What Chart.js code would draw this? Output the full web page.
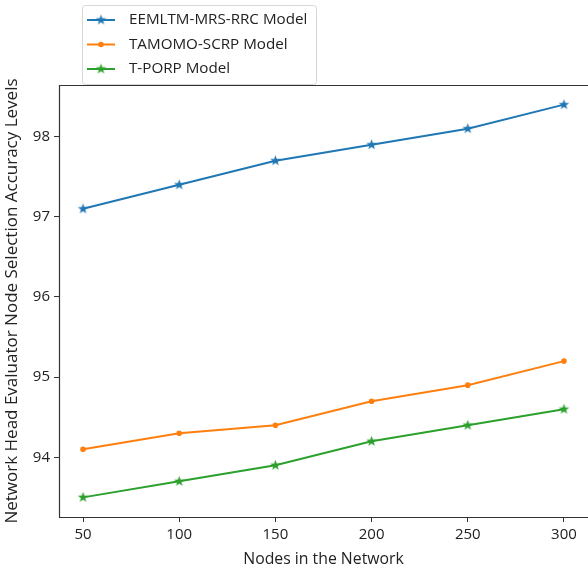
<!DOCTYPE html>
<html>
<head>
<meta charset="utf-8">
<script src="https://cdn.jsdelivr.net/npm/chart.js@4"></script>
<style>
  html, body { margin: 0; padding: 0; background: #fff; }
</style>
</head>
<body>
<canvas id="chart" width="588" height="571"></canvas>
<script>
// Chart data
const nodes = [50, 100, 150, 200, 250, 300];
const eemltm = [97.1, 97.4, 97.7, 97.9, 98.1, 98.4];
const tamomo = [94.1, 94.3, 94.4, 94.7, 94.9, 95.2];
const tporp = [93.5, 93.7, 93.9, 94.2, 94.4, 94.6];
const seriesNames = ['EEMLTM-MRS-RRC Model', 'TAMOMO-SCRP Model', 'T-PORP Model'];
const seriesColors = ['#1f77b4', '#ff7f0e', '#2ca02c'];
const xTicks = [50, 100, 150, 200, 250, 300];
const yTicks = [94, 95, 96, 97, 98];

const FONT = 'Open Sans';
const AXIS_COLOR = '#333';

// Filled five point star, like matplotlib's '*' marker
function makeStar(color, r) {
  const size = Math.ceil(r * 2 + 2);
  const c = document.createElement('canvas');
  c.width = size;
  c.height = size;
  const g = c.getContext('2d');
  const cx = size / 2, cy = size / 2;
  g.beginPath();
  for (let i = 0; i < 10; i++) {
    const rad = i % 2 === 0 ? r : r * 0.42;
    const a = -Math.PI / 2 + i * Math.PI / 5;
    const px = cx + rad * Math.cos(a), py = cy + rad * Math.sin(a);
    if (i === 0) g.moveTo(px, py); else g.lineTo(px, py);
  }
  g.closePath();
  g.fillStyle = color;
  g.fill();
  return c;
}

const stars = [makeStar(seriesColors[0], 5.5), null, makeStar(seriesColors[2], 5.5)];

function toPoints(values) {
  return nodes.map((n, i) => ({ x: n, y: values[i] }));
}

// Axes frame (top, left, bottom) and the legend box
const framePlugin = {
  id: 'frame',
  beforeDatasetsDraw(chart) {
    const { ctx, chartArea: a } = chart;
    ctx.save();
    ctx.strokeStyle = AXIS_COLOR;
    ctx.lineWidth = 1.2;
    ctx.beginPath();
    ctx.moveTo(chart.width, a.top + 0.5);
    ctx.lineTo(a.left + 0.5, a.top + 0.5);
    ctx.lineTo(a.left + 0.5, a.bottom + 0.5);
    ctx.lineTo(chart.width, a.bottom + 0.5);
    ctx.stroke();
    ctx.restore();
  },
  afterDraw(chart) {
    const { ctx } = chart;
    ctx.save();
    const bx = 82.5, by = 5.5, bw = 234, bh = 79;
    ctx.beginPath();
    ctx.roundRect(bx, by, bw, bh, 3);
    ctx.fillStyle = 'rgba(255,255,255,0.95)';
    ctx.fill();
    ctx.strokeStyle = '#d6d6d6';
    ctx.lineWidth = 1;
    ctx.stroke();

    ctx.font = '15.2px "' + FONT + '"';
    ctx.textBaseline = 'middle';
    seriesNames.forEach((name, i) => {
      const y = 20 + i * 24.5;
      ctx.strokeStyle = seriesColors[i];
      ctx.lineWidth = 2;
      ctx.beginPath();
      ctx.moveTo(87, y);
      ctx.lineTo(115, y);
      ctx.stroke();
      if (stars[i]) {
        const s = stars[i];
        ctx.drawImage(s, 101 - s.width / 2, y - s.height / 2);
      } else {
        ctx.fillStyle = seriesColors[i];
        ctx.beginPath();
        ctx.arc(101, y, 2.8, 0, Math.PI * 2);
        ctx.fill();
      }
      ctx.fillStyle = '#222';
      ctx.fillText(name, 129, y);
    });
    ctx.restore();
  }
};

const ctx = document.getElementById('chart').getContext('2d');
new Chart(ctx, {
  type: 'line',
  data: {
    datasets: [
      {
        label: seriesNames[0],
        data: toPoints(eemltm),
        borderColor: seriesColors[0],
        backgroundColor: seriesColors[0],
        borderWidth: 2,
        pointStyle: stars[0],
        pointRadius: 5
      },
      {
        label: seriesNames[1],
        data: toPoints(tamomo),
        borderColor: seriesColors[1],
        backgroundColor: seriesColors[1],
        borderWidth: 2,
        pointStyle: 'circle',
        pointRadius: 2.8,
        pointBorderWidth: 0
      },
      {
        label: seriesNames[2],
        data: toPoints(tporp),
        borderColor: seriesColors[2],
        backgroundColor: seriesColors[2],
        borderWidth: 2,
        pointStyle: stars[2],
        pointRadius: 5
      }
    ]
  },
  options: {
    responsive: false,
    animation: false,
    events: [],
    layout: { autoPadding: false, padding: { top: 85, left: 0, right: 0, bottom: 0 } },
    plugins: {
      legend: { display: false },
      tooltip: { enabled: false }
    },
    scales: {
      x: {
        type: 'linear',
        min: 37.5,
        max: 312.5,
        afterBuildTicks: (scale) => { scale.ticks = xTicks.map(v => ({ value: v })); },
        afterFit: (scale) => {
          scale.height = 54;
          scale.paddingLeft = 0;
          scale.paddingRight = 0;
        },
        grid: {
          drawOnChartArea: false,
          drawTicks: true,
          tickLength: 5,
          tickWidth: 1,
          tickColor: AXIS_COLOR
        },
        border: { display: false },
        ticks: {
          color: '#222',
          font: { family: FONT, size: 15 },
          padding: 4,
          maxRotation: 0
        },
        title: {
          display: true,
          text: 'Nodes in the Network',
          color: '#222',
          font: { family: FONT, size: 15.8 },
          padding: { top: 0, bottom: 2 }
        }
      },
      y: {
        type: 'linear',
        min: 93.255,
        max: 98.645,
        afterBuildTicks: (scale) => { scale.ticks = yTicks.map(v => ({ value: v })); },
        afterFit: (scale) => {
          scale.width = 59;
          scale.paddingTop = 0;
          scale.paddingBottom = 0;
        },
        grid: {
          drawOnChartArea: false,
          drawTicks: true,
          tickLength: 5,
          tickWidth: 1,
          tickColor: AXIS_COLOR
        },
        border: { display: false },
        ticks: {
          color: '#222',
          font: { family: FONT, size: 15 },
          padding: 4
        },
        title: {
          display: true,
          text: 'Network Head Evaluator Node Selection Accuracy Levels',
          color: '#222',
          font: { family: FONT, size: 17 },
          padding: { top: 2, bottom: 0 }
        }
      }
    }
  },
  plugins: [framePlugin]
});
</script>
</body>
</html>
